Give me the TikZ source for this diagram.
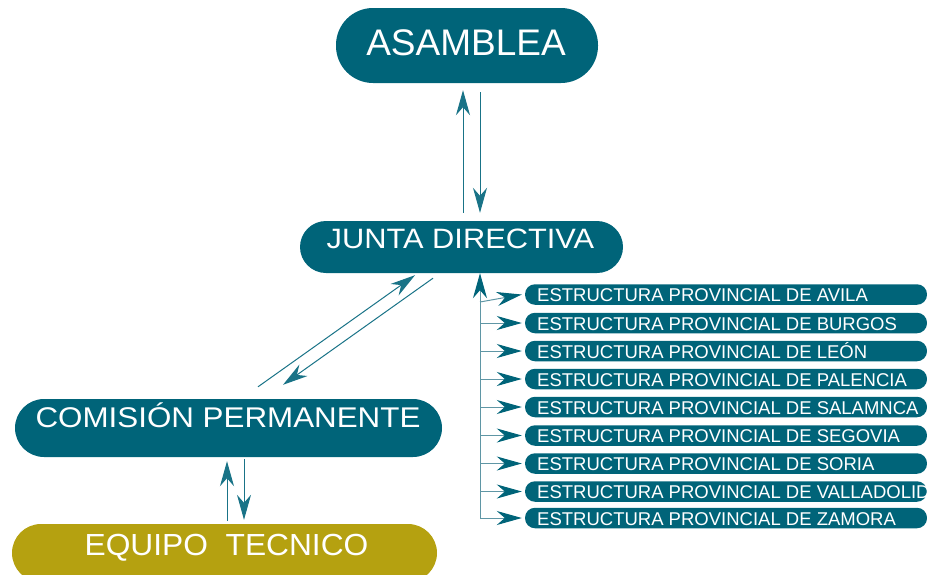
\documentclass[tikz,border=0pt]{standalone}
\usepackage{fontspec}
\setmainfont{Liberation Sans}
\newfontfamily\widefont[FakeStretch=1.1]{Liberation Sans}
\newfontfamily\wideBfont[FakeStretch=1.04]{Liberation Sans}
\usetikzlibrary{arrows.meta,calc}
\definecolor{boxteal}{RGB}{0,100,121}
\definecolor{boxolive}{RGB}{181,161,16}
\definecolor{lineteal}{RGB}{25,115,135}
\definecolor{provline}{RGB}{95,150,165}
\tikzset{
  pill/.style={draw=none,fill=boxteal,inner sep=0pt,rectangle},
  lbl/.style={text=white,inner sep=0pt,anchor=base},
  provbox/.style={pill,minimum width=402pt,minimum height=20.5pt,rounded corners=10pt},
  provlbl/.style={text=white,inner sep=0pt,anchor=base west,font=\fontsize{18.5}{20}\selectfont},
  arr/.style={draw=lineteal,line width=1pt,-{Stealth[length=25pt,width=14pt,inset=8pt]}},
  parr/.style={draw=provline,line width=1pt,-{Stealth[length=25pt,width=14pt,inset=8pt,color=boxteal]}},
  spine/.style={draw=provline,line width=1pt}
}
\begin{document}
\begin{tikzpicture}[x=1pt,y=-1pt]
\useasboundingbox (0,0) rectangle (927,574);
% main boxes
\node[pill,minimum width=262pt,minimum height=75pt,rounded corners=37pt] (asm) at (467,45.5) {};
\node[lbl,font=\fontsize{37}{40}\selectfont] (asmt) at (466,55) {ASAMBLEA};
\node[pill,minimum width=323pt,minimum height=52pt,rounded corners=26pt] (jd) at (461.5,247) {};
\node[lbl,font=\widefont\fontsize{28}{30}\selectfont] (jdt) at (460.5,248) {JUNTA DIRECTIVA};
\node[pill,minimum width=427pt,minimum height=58pt,rounded corners=29pt] (cp) at (228.5,428) {};
\node[lbl,font=\widefont\fontsize{28.5}{30}\selectfont] (cpt) at (228,427) {COMISIÓN PERMANENTE};
\node[pill,fill=boxolive,minimum width=425pt,minimum height=58pt,rounded corners=29pt] (et) at (224.5,553) {};
\node[lbl,font=\wideBfont\fontsize{30.5}{32}\selectfont] (ett) at (226.5,555) {EQUIPO\ \ TECNICO};
% main arrows
\draw[arr] ([shift={(1.5,-8)}]jd.north) -- ([shift={(-4,7)}]asm.south);
\draw[arr] ([shift={(13,9)}]asm.south) -- ([shift={(18.5,-8)}]jd.north);
\draw[arr] ([shift={(29.5,-12)}]cp.north) -- ([shift={(-46.5,2)}]jd.south);
\draw[arr] ([shift={(-28.5,5)}]jd.south) -- ([shift={(54.5,-14)}]cp.north);
\draw[arr] ([shift={(2.5,-3)}]et.north) -- ([shift={(-1.5,4)}]cp.south);
\draw[arr] ([shift={(15.5,2)}]cp.south) -- ([shift={(19.5,-4)}]et.north);
% provincial boxes
\foreach \n/\y/\t in {p1/294.5/AVILA, p2/323/BURGOS, p3/351/LEÓN, p4/379/PALENCIA, p5/407/SALAMNCA, p6/435.5/SEGOVIA, p7/463.5/SORIA, p8/491.5/VALLADOLID, p9/518/ZAMORA}{
  \node[provbox] (\n) at (726,\y) {};
  \node[provlbl] (\n t) at (537,\y+7) {ESTRUCTURA PROVINCIAL DE \t};
}
% spine
\coordinate (s1) at (480,302);
\coordinate (s9) at (480,519);
\draw[spine,-{Stealth[length=25pt,width=14pt,inset=8pt,color=boxteal]}] (s9) -- (jd.south -| s9);
\draw[parr] (s1) -- ([xshift=-3pt]p1.west);
\foreach \n in {p2,p3,p4,p5,p6,p7,p8,p9}{
  \coordinate (s\n) at (\n.west -| s9);
  \draw[parr] (s\n) -- ([xshift=-3pt]\n.west);
}
\end{tikzpicture}
\end{document}
